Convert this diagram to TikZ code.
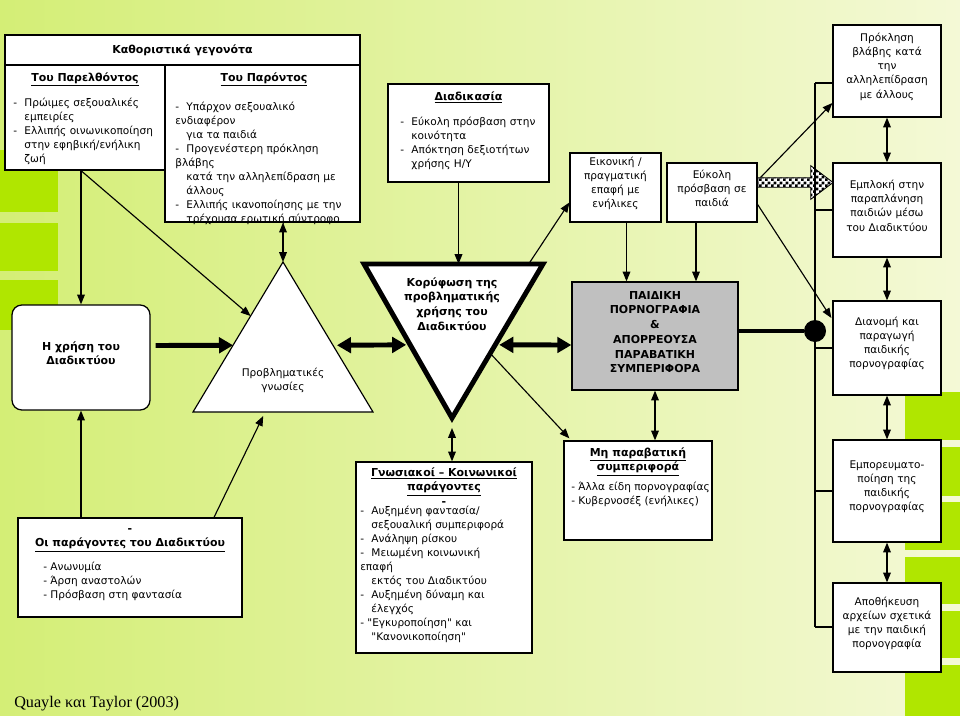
\documentclass[tikz,border=0pt]{standalone}
\usepackage{fontspec}
\setmainfont{DejaVu Sans}
\newfontfamily\citefont{Liberation Serif}
\newfontfamily\plainfont{DejaVu Sans}
\usetikzlibrary{arrows.meta,shapes.arrows,patterns,fit,calc}

\definecolor{bgleft}{RGB}{212,238,118}
\definecolor{bgright}{RGB}{244,249,214}
\definecolor{stripe}{RGB}{176,230,0}
\definecolor{boxgray}{RGB}{192,192,192}

\newcommand{\itemdash}{-\hspace{0.7em}}
\newcommand{\itemind}{\hphantom{-}\hspace{0.7em}}
\newcommand{\dq}{{\plainfont\char34}}

\pgfdeclarepatternformonly{finecheck}{\pgfpointorigin}{\pgfpoint{4pt}{4pt}}{\pgfpoint{4pt}{4pt}}{
  \pgfpathrectangle{\pgfpointorigin}{\pgfpoint{2pt}{2pt}}
  \pgfpathrectangle{\pgfpoint{2pt}{2pt}}{\pgfpoint{2pt}{2pt}}
  \pgfusepath{fill}
}

\tikzset{
  box/.style={draw, fill=white, line width=0.9pt, inner sep=0pt},
  txt/.style={inner sep=0pt, font=\fontsize{7.5}{10}\selectfont},
  list/.style={txt, align=left, anchor=north west},
  hdr/.style={inner sep=0pt, font=\fontsize{7.8}{10.5}\selectfont\bfseries, align=center},
  arr/.style={line width=0.8pt, -{Triangle[length=7pt,width=5.5pt]}},
  darr/.style={line width=0.8pt, {Triangle[length=7pt,width=5.5pt]}-{Triangle[length=7pt,width=5.5pt]}},
  bigarr/.style={line width=3.5pt, -{Triangle[length=10pt,width=11pt]}},
  bigdarr/.style={line width=3.5pt, {Triangle[length=10pt,width=11pt]}-{Triangle[length=10pt,width=11pt]}},
  hatcharrow/.style={single arrow, draw, line width=0.6pt, preaction={fill=white},
    pattern=finecheck, inner xsep=0pt, inner ysep=0.11cm,
    single arrow head extend=0.3cm, single arrow tip angle=74, minimum height=1.875cm},
}

\begin{document}
\begin{tikzpicture}[x=0.025cm, y=-0.025cm]
  %% background
  \shade[left color=bgleft, right color=bgright] (0,0) rectangle (960,716);
  \useasboundingbox (0,0) rectangle (960,716);
  \fill[stripe] (0,150) rectangle (58,212);
  \fill[stripe] (0,223) rectangle (58,271);
  \fill[stripe] (0,280) rectangle (58,330);
  \foreach \ya/\yb in {392/440, 447/496, 502/550, 557/604, 611/658, 665/716}
    \fill[stripe] (905,\ya) rectangle (960,\yb);

  %% determining factors
  \node[box, fit={(5,35) (360,65)}] (deter) {};
  \node[hdr] at (deter.center) {Καθοριστικά γεγονότα};
  \node[box, fit={(5,65) (165,170)}] (past) {};
  \node[hdr, anchor=north] at (85,72) {\underline{Του Παρελθόντος}};
  \node[list] at (13,96) {\strut\itemdash Πρώιμες σεξουαλικές\\
    \itemind εμπειρίες\\
    \itemdash Ελλιπής οινωνικοποίηση\\
    \itemind στην εφηβική/ενήλικη\\
    \itemind ζωή};
  \node[box, fit={(165,65) (360,222)}] (pres) {};
  \node[hdr, anchor=north] at (264,72) {\underline{Του Παρόντος}};
  \node[list] at (175,100) {\strut\itemdash Υπάρχον σεξουαλικό\\
    ενδιαφέρον\\
    \itemind για τα παιδιά\\
    \itemdash Προγενέστερη πρόκληση\\
    βλάβης\\
    \itemind κατά την αλληλεπίδραση με\\
    \itemind άλλους\\
    \itemdash Ελλιπής ικανοποίησης με την\\
    \itemind τρέχουσα ερωτική σύντροφο};

  %% process
  \node[box, fit={(388,84) (549,182)}] (proc) {};
  \node[hdr, anchor=north] at (proc.north |- 0,91) {\underline{Διαδικασία}};
  \node[list] at (400,115) {\strut\itemdash Εύκολη πρόσβαση στην\\
    \itemind κοινότητα\\
    \itemdash Απόκτηση δεξιοτήτων\\
    \itemind χρήσης Η/Υ};

  \node[box, txt, fit={(570,153) (661,222)}, align=center] (contact)
    {Εικονική /\\πραγματική\\επαφή με\\ενήλικες};
  \node[box, txt, fit={(667,163) (757,222)}, align=center] (access)
    {Εύκολη\\πρόσβαση σε\\παιδιά};

  %% right column
  \node[box, txt, fit={(833,25) (941,117)}, align=center] (harm)
    {Πρόκληση\\βλάβης κατά\\την\\αλληλεπίδραση\\με άλλους};
  \node[box, txt, fit={(833,163) (941,257)}, align=center] (groom)
    {Εμπλοκή στην\\παραπλάνηση\\παιδιών μέσω\\του Διαδικτύου};
  \node[box, txt, fit={(833,301) (941,395)}, align=center] (distr)
    {Διανομή και\\παραγωγή\\παιδικής\\πορνογραφίας};
  \node[box, txt, fit={(833,440) (941,542)}, align=center] (trade)
    {Εμπορευματο-\\ποίηση της\\παιδικής\\πορνογραφίας};
  \node[box, txt, fit={(833,583) (941,672)}, align=center] (store)
    {Αποθήκευση\\αρχείων σχετικά\\με την παιδική\\πορνογραφία};

  %% middle row
  \node[box, hdr, rounded corners=7pt, fit={(12,305) (150,410)}] (use)
    {Η χρήση του\\Διαδικτύου};
  \coordinate (cogA) at (283,262);
  \coordinate (cogL) at (193,412);
  \coordinate (cogR) at (373,412);
  \draw[fill=white, line width=0.8pt] (cogA) -- (cogL) -- (cogR) -- cycle;
  \node[txt, align=center] (cog) at (283,380) {Προβληματικές\\γνωσίες};
  \coordinate (peakA) at (364,264);
  \coordinate (peakB) at (543,264);
  \coordinate (peakC) at (452,418);
  \draw[fill=white, line width=3.5pt, line join=miter] (peakA) -- (peakB) -- (peakC) -- cycle;
  \node[hdr] (peak) at (452,304) {Κορύφωση της\\προβληματικής\\χρήσης του\\Διαδικτύου};
  \node[box, hdr, fill=boxgray, fit={(572,282) (738,390)}] (cp)
    {ΠΑΙΔΙΚΗ\\ΠΟΡΝΟΓΡΑΦΙΑ\\\&\\ΑΠΟΡΡΕΟΥΣΑ\\ΠΑΡΑΒΑΤΙΚΗ\\ΣΥΜΠΕΡΙΦΟΡΑ};

  %% bottom row
  \node[box, fit={(18,518) (242,617)}] (netf) {};
  \node[hdr, anchor=north] at (130,528) {-\\\underline{Οι παράγοντες του Διαδικτύου}};
  \node[list] at (43,560) {\strut- Ανωνυμία\\- Άρση αναστολών\\- Πρόσβαση στη φαντασία};
  \node[box, fit={(356,462) (532,653)}] (socf) {};
  \node[hdr, anchor=north] at (444,467) {\underline{Γνωσιακοί -- Κοινωνικοί}\\\underline{παράγοντες}\\-};
  \node[list] at (360,504) {\strut\itemdash Αυξημένη φαντασία/\\
    \itemind σεξουαλική συμπεριφορά\\
    \itemdash Ανάληψη ρίσκου\\
    \itemdash Μειωμένη κοινωνική\\
    επαφή\\
    \itemind εκτός του Διαδικτύου\\
    \itemdash Αυξημένη δύναμη και\\
    \itemind έλεγχός\\
    - \dq Εγκυροποίηση\dq{} και\\
    \itemind \dq Κανονικοποίηση\dq};
  \node[box, fit={(564,441) (712,540)}] (nonoff) {};
  \node[hdr, anchor=north] at (638,447) {\underline{Μη παραβατική}\\\underline{συμπεριφορά}};
  \node[list] at (571,480) {\strut- Άλλα είδη πορνογραφίας\\- Κυβερνοσέξ (ενήλικες)};

  \node[anchor=base west, inner sep=0pt, font=\citefont\fontsize{11.5}{13}\selectfont]
    (cite) at (14,707) {Quayle και Taylor (2003)};

  %% connectors
  \draw[arr] (use.north |- past.south) -- (use.north);
  \draw[arr] (use.north |- past.south) -- ($(cogA)!0.36!(cogL)$);
  \draw[darr] (cogA |- pres.south) -- (cogA);
  \draw[arr] ($(proc.south)+(-10,0)$) coordinate (p1) -- (p1 |- peakA);
  \draw[arr] ($(peakA)!0.92!(peakB)$) -- ($(contact.west)+(0,15)$);
  \draw[arr] ($(contact.south)+(11,0)$) coordinate (c1) -- (c1 |- cp.north);
  \draw[arr] ($(access.south)+(-16,0)$) coordinate (a1) -- (a1 |- cp.north);
  \draw[arr] ($(access.east)+(0,-12)$) -- ($(harm.west)+(0,32)$);
  \node[hatcharrow, anchor=tail] (lure) at ($(access.east)+(0,-10)$) {};
  \draw[arr] ($(access.east)+(0,12)$) -- ($(distr.west)+(-1,-30)$);
  \draw[darr] (harm.south) -- (groom.north);
  \draw[darr] (groom.south) -- (distr.north);
  \draw[darr] (distr.south) -- (trade.north);
  \draw[darr] (trade.south) -- (store.north);

  %% bus
  \coordinate (busTop) at (815,83);
  \coordinate (busBot) at (815,627);
  \draw[line width=0.8pt] (busTop) -- (busBot);
  \draw[line width=0.8pt] (busTop) -- (busTop -| harm.west);
  \draw[line width=0.8pt] (busTop |- groom.west) -- (groom.west);
  \draw[line width=0.8pt] (busTop |- distr.west) -- (distr.west);
  \draw[line width=0.8pt] (busTop |- trade.west) -- (trade.west);
  \draw[line width=0.8pt] (busBot) -- (busBot -| store.west);
  \node[circle, fill=black, minimum size=0.55cm, inner sep=0pt] (hub) at (815,331) {};
  \draw[line width=3.5pt] (cp.east |- hub) -- (hub);

  %% middle row arrows
  \draw[bigarr] ($(use.east)+(5,-12)$) -- ($(cogA)!0.555!(cogL)$);
  \draw[bigdarr] ($(cogA)!0.555!(cogR)+(4,0)$) -- ($(peakA)!0.525!(peakC)+(-4,0)$);
  \draw[bigdarr] ($(peakB)!0.525!(peakC)+(4,0)$) -- ($(cp.west)+(0,9)$);
  \draw[arr] ($(peakB)!0.58!(peakC)$) -- ($(nonoff.north west)+(6,-2)$);
  \draw[darr] ($(peakC)+(0,10)$) -- (peakC |- socf.north);
  \draw[darr] (cp.south) -- (cp.south |- nonoff.north);
  \draw[arr] (use.south |- netf.north) -- (use.south);
  \draw[arr] ($(netf.north)+(84,0)$) -- ($(cogL)!0.39!(cogR)+(0,4)$);
\end{tikzpicture}
\end{document}
